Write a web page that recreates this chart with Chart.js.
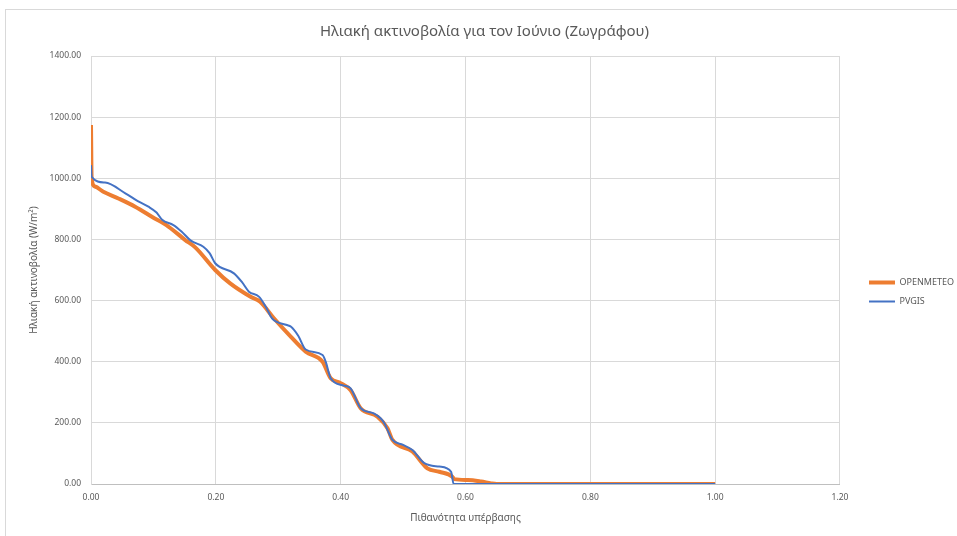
<!DOCTYPE html>
<html>
<head>
<meta charset="utf-8">
<script src="https://cdn.jsdelivr.net/npm/chart.js@4"></script>
<style>
  body { margin: 0; background: #fff; }
  #frame { position: absolute; left: 5px; top: 9px; width: 1000px; height: 600px; border: 1px solid #d9d9d9; }
  #wrap { position: absolute; left: 0; top: 0; width: 957px; height: 536px; }
</style>
</head>
<body>
<div id="frame"></div>
<div id="wrap"><canvas id="myChart"></canvas></div>
<script>
// probability of exceedance (x) and irradiance W/m2 (y)
const openmeteoP = [0, 0.001, 0.0064, 0.0198, 0.0439, 0.0707, 0.0975, 0.124, 0.151, 0.167, 0.199, 0.223, 0.255, 0.271, 0.293, 0.320, 0.344, 0.371, 0.384, 0.400, 0.416, 0.432, 0.459, 0.475, 0.483, 0.515, 0.539, 0.558, 0.579, 0.582, 0.604, 0.625, 0.641, 0.650, 1.00];
const openmeteoVal = [1174, 1000, 973, 956, 934, 907, 874, 842, 798, 774, 700, 656, 613, 596, 542, 482, 433, 400, 346, 330, 307, 248, 220, 182, 144, 106, 51, 40, 24, 16, 13, 8, 2, 0, 0];

const pvgisP = [0, 0.001, 0.0225, 0.055, 0.075, 0.092, 0.105, 0.114, 0.132, 0.145, 0.160, 0.180, 0.190, 0.199, 0.229, 0.242, 0.253, 0.269, 0.280, 0.290, 0.314, 0.320, 0.332, 0.344, 0.371, 0.376, 0.384, 0.405, 0.416, 0.432, 0.453, 0.464, 0.470, 0.483, 0.500, 0.515, 0.534, 0.558, 0.577, 0.581, 1.00];
const pvgisVal = [1043, 1005, 986, 951, 925, 907, 888, 864, 847, 826, 796, 776, 755, 722, 689, 660, 629, 613, 580, 542, 520, 515, 485, 440, 422, 400, 346, 322, 313, 248, 231, 215, 199, 144, 128, 111, 68, 57, 40, 0, 0];

const xTicks = [0, 0.2, 0.4, 0.6, 0.8, 1.0, 1.2];
const yTicks = [0, 200, 400, 600, 800, 1000, 1200, 1400];

const ctx = document.getElementById('myChart');
const grey = '#595959';
const gridColor = '#d9d9d9';
const fontFamily = "'Noto Sans', sans-serif";

function toPoints(xs, ys) {
    return xs.map((x, i) => ({ x: x, y: ys[i] }));
}

// move the legend a bit to the right and down
const legendShift = {
    id: 'legendShift',
    afterLayout(chart) {
        const lg = chart.legend;
        if (!lg) return;
        lg.left += 19; lg.right += 19;
        lg.top += 28; lg.bottom += 28;
    }
};

new Chart(ctx, {
    type: 'scatter',
    data: {
        datasets: [
            {
                label: 'OPENMETEO',
                data: toPoints(openmeteoP, openmeteoVal),
                showLine: true,
                borderColor: '#ED7D31',
                backgroundColor: '#ED7D31',
                borderWidth: 4,
                pointRadius: 0,
                cubicInterpolationMode: 'monotone',
                order: 2
            },
            {
                label: 'PVGIS',
                data: toPoints(pvgisP, pvgisVal),
                showLine: true,
                borderColor: '#4472C4',
                backgroundColor: '#4472C4',
                borderWidth: 2,
                pointRadius: 0,
                cubicInterpolationMode: 'monotone',
                order: 1
            }
        ]
    },
    options: {
        responsive: true,
        maintainAspectRatio: false,
        animation: false,
        layout: { padding: { left: 24, right: 12, top: 0, bottom: 8 } },
        plugins: {
            title: {
                display: true,
                text: 'Ηλιακή ακτινοβολία για τον Ιούνιο (Ζωγράφου)',
                color: grey,
                font: { family: fontFamily, size: 15, weight: 'normal' },
                padding: { top: 23, bottom: 15 }
            },
            legend: {
                position: 'right',
                labels: {
                    color: grey,
                    font: { family: fontFamily, size: 9 },
                    usePointStyle: true,
                    pointStyle: 'line',
                    pointStyleWidth: 26,
                    padding: 10,
                    sort: (a, b) => a.datasetIndex - b.datasetIndex
                }
            },
            tooltip: { enabled: false }
        },
        scales: {
            x: {
                type: 'linear',
                min: 0,
                max: 1.2,
                afterBuildTicks: s => { s.ticks = xTicks.map(v => ({ value: v })); },
                afterFit: s => { s.height = 44; },
                ticks: {
                    color: grey,
                    font: { family: fontFamily, size: 8.5 },
                    padding: 8,
                    maxRotation: 0,
                    callback: v => Number(v).toFixed(2)
                },
                grid: { color: gridColor, drawTicks: false },
                border: { color: '#bfbfbf' },
                title: {
                    display: true,
                    text: 'Πιθανότητα υπέρβασης',
                    color: grey,
                    font: { family: fontFamily, size: 10 },
                    padding: { top: 4, bottom: 4 }
                }
            },
            y: {
                min: 0,
                max: 1400,
                afterBuildTicks: s => { s.ticks = yTicks.map(v => ({ value: v })); },
                afterFit: s => { s.width = 67; },
                ticks: {
                    color: grey,
                    font: { family: fontFamily, size: 8.5 },
                    padding: 10,
                    callback: v => Number(v).toFixed(2)
                },
                grid: { color: gridColor, drawTicks: false },
                border: { color: gridColor },
                title: {
                    display: true,
                    text: 'Ηλιακή ακτινοβολία (W/m²)',
                    color: grey,
                    font: { family: fontFamily, size: 10 },
                    padding: { top: 4, bottom: 4 }
                }
            }
        }
    },
    plugins: [legendShift]
});
</script>
</body>
</html>
